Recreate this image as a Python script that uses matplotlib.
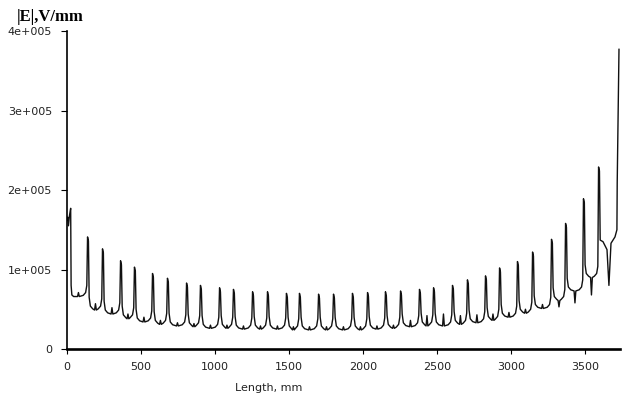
import matplotlib
matplotlib.use("Agg")
import matplotlib.pyplot as plt

# |E| along the length, values in units of 1e5 V/mm
head_mm = [0, 5, 10, 17, 25, 28, 33, 45]
head_e5 = [1.62, 1.66, 1.55, 1.68, 1.77, 0.80, 0.68, 0.66]

spike_mm = [142, 243, 365, 459, 581, 682, 811, 905, 1034, 1128, 1257, 1358,
            1486, 1574, 1703, 1804, 1932, 2034, 2155, 2257, 2385, 2480, 2608,
            2709, 2831, 2926, 3047, 3149, 3277, 3372, 3493, 3595]
peak_e5 = [1.41, 1.26, 1.11, 1.03, 0.95, 0.89, 0.83, 0.80, 0.77, 0.75, 0.72,
           0.72, 0.70, 0.70, 0.69, 0.69, 0.70, 0.71, 0.72, 0.73, 0.75, 0.77,
           0.80, 0.87, 0.92, 1.02, 1.10, 1.22, 1.38, 1.58, 1.89, 2.29]

# field level in the gap before each peak (last entry: after the last peak)
valley_e5 = [0.66, 0.49, 0.44, 0.38, 0.34, 0.31, 0.29, 0.28, 0.26, 0.26, 0.25,
             0.25, 0.25, 0.24, 0.24, 0.24, 0.24, 0.24, 0.25, 0.26, 0.28, 0.29,
             0.29, 0.31, 0.33, 0.36, 0.40, 0.45, 0.51, 0.61, 0.73, 0.90, 1.21]
# small blip in the middle of each gap
notch_e5 = [0.71, 0.57, 0.52, 0.44, 0.40, 0.36, 0.33, 0.32, 0.30, 0.30, 0.29,
            0.29, 0.29, 0.28, 0.28, 0.28, 0.28, 0.28, 0.29, 0.30, 0.36, 0.42,
            0.44, 0.42, 0.43, 0.44, 0.46, 0.50, 0.56, 0.53, 0.58, 0.68]

tail_mm = [3622, 3649, 3662, 3676, 3703, 3716, 3718, 3730]
tail_e5 = [1.35, 1.25, 0.80, 1.33, 1.41, 1.50, 2.09, 3.77]

x_ticks = [0, 500, 1000, 1500, 2000, 2500, 3000, 3500]
y_ticks = [0, 1e5, 2e5, 3e5, 4e5]
y_tick_labels = ["0", "1e+005", "2e+005", "3e+005", "4e+005"]


def build_trace():
    """Join head, peaks with their gaps, and tail into one polyline."""
    xs, ys = list(head_mm), list(head_e5)
    n = len(spike_mm)
    for k in range(n):
        p, h = spike_mm[k], peak_e5[k]
        lo, hi = valley_e5[k], valley_e5[k + 1]
        mid = (xs[-1] + p - 32) / 2
        xs += [mid - 6, mid, mid + 6]
        ys += [lo, notch_e5[k], lo]
        xs += [p - 32, p - 16, p - 8, p - 3, p + 3, p + 8]
        ys += [lo + 0.015, lo + 0.05, lo + 0.14, h, h - 0.05, hi + 0.16]
        if k < n - 1:
            xs += [p + 16, p + 32]
            ys += [hi + 0.05, hi + 0.015]
    xs += tail_mm
    ys += tail_e5
    return xs, [v * 1e5 for v in ys]


length, field = build_trace()

fig = plt.figure(figsize=(6.33, 4.03), dpi=100)
ax = fig.add_axes([0.1058, 0.134, 0.8744, 0.789])
ax.plot(length, field, color="#111111", lw=1.0)

ax.set_xlim(0, 3740)
ax.set_ylim(0, 4e5)
ax.set_xticks(x_ticks)
ax.set_xticklabels([str(t) for t in x_ticks])
ax.set_yticks(y_ticks)
ax.set_yticklabels(y_tick_labels)

for side in ["top", "right"]:
    ax.spines[side].set_visible(False)
ax.spines["bottom"].set_linewidth(1.9)
ax.spines["left"].set_linewidth(1.2)

ax.tick_params(axis="y", length=4.3, width=0.8, pad=6.5, labelsize=8,
               labelcolor="#222222")
ax.tick_params(axis="x", length=3.6, width=0.8, pad=5.5, labelsize=8,
               labelcolor="#222222")

fig.text(0.027, 0.959, "|E|,V/mm", fontsize=12, fontweight="bold",
         family="Liberation Serif", ha="left", va="center")
fig.text(0.425, 0.037, "Length, mm", fontsize=8, color="#222222",
         ha="center", va="center")

fig.savefig("out.png", dpi=100)
